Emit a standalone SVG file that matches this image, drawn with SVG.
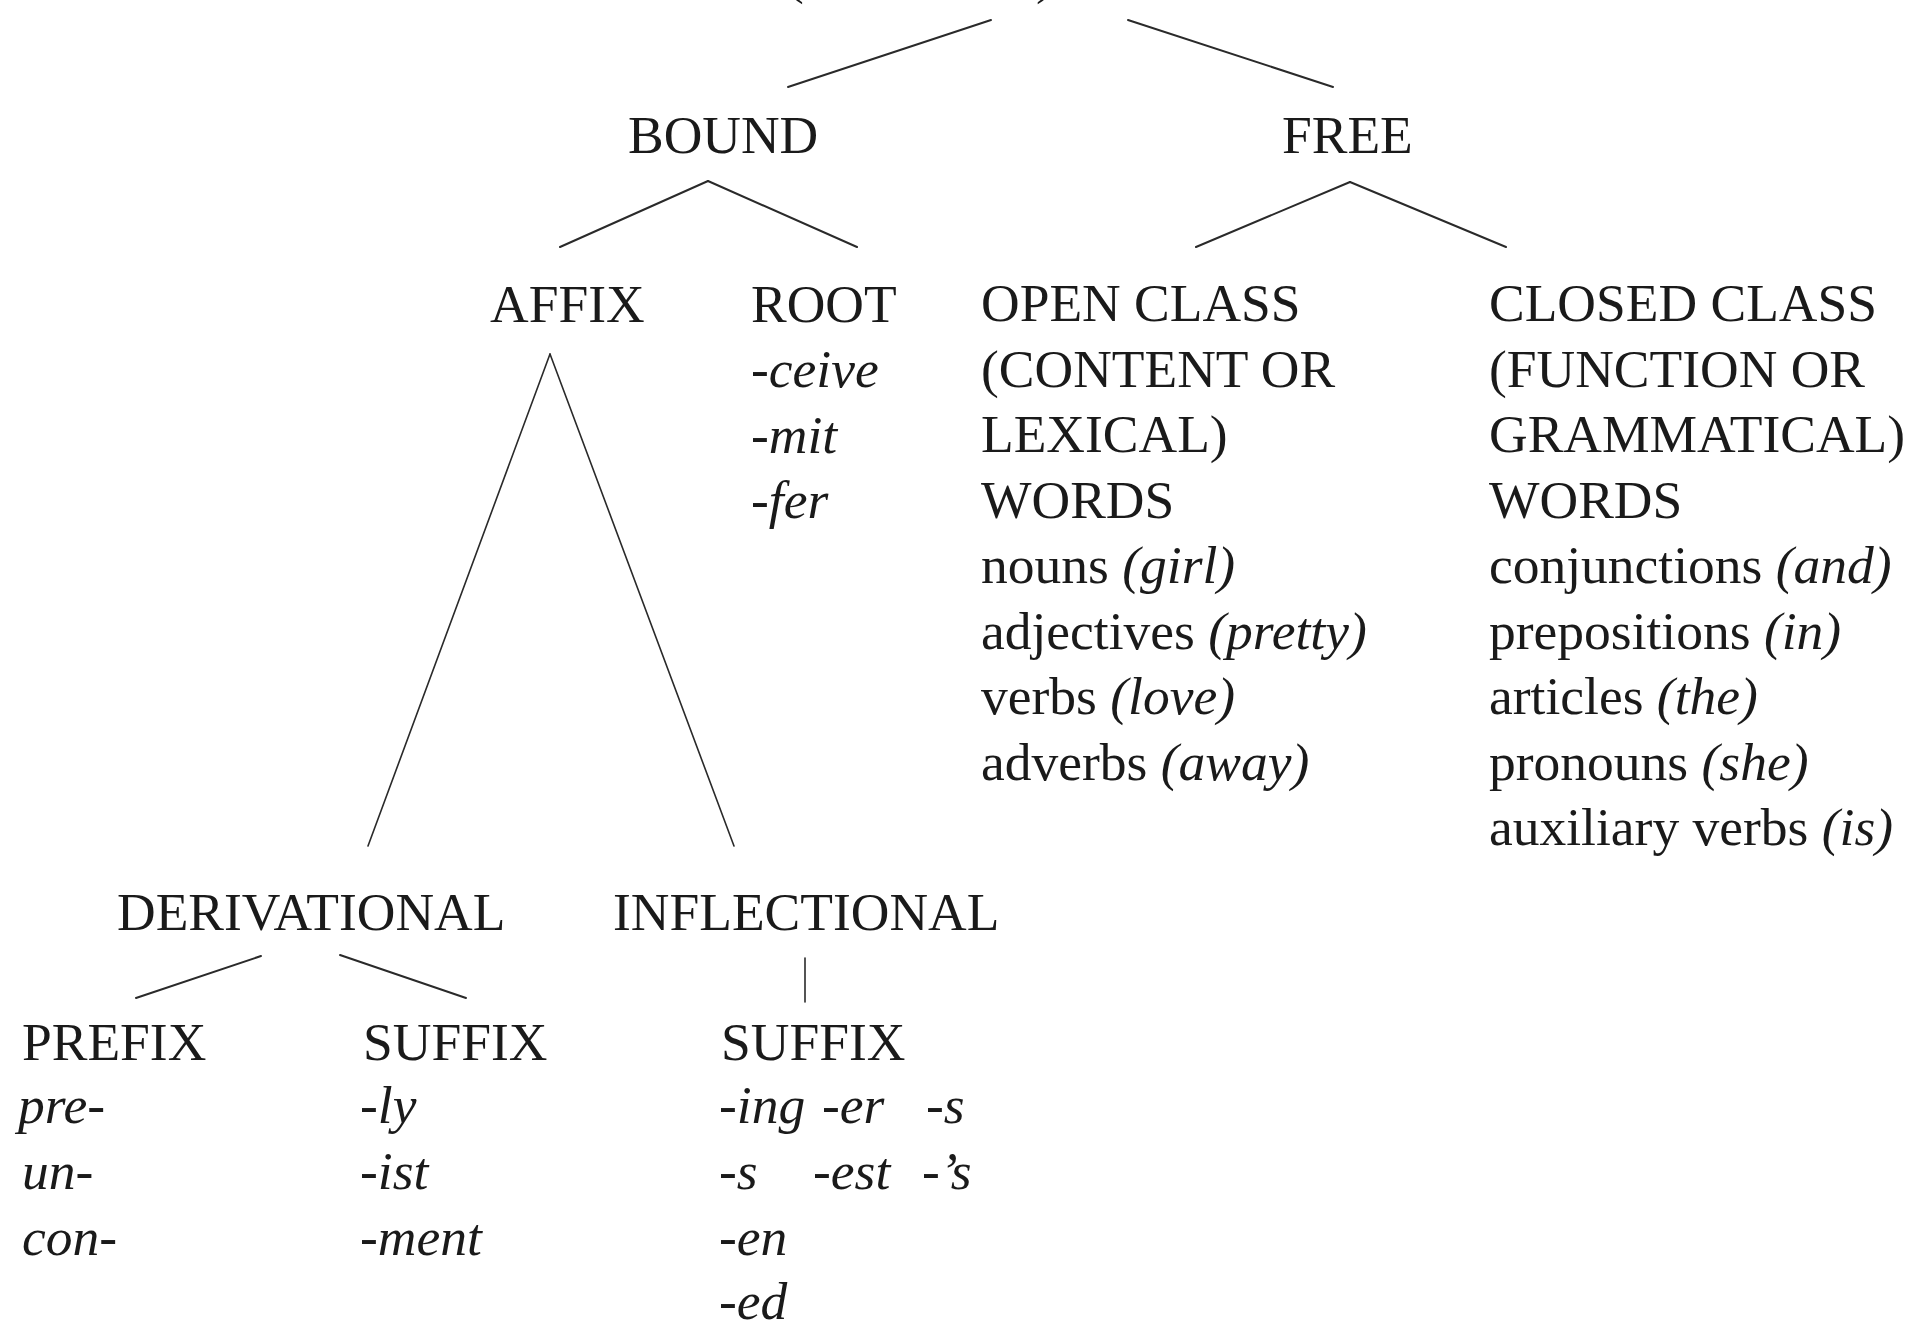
<svg xmlns="http://www.w3.org/2000/svg" width="1918" height="1324" viewBox="0 0 1918 1324">
<style>
  text { font-family: "Liberation Serif", "Times New Roman", serif; font-size: 53.5px; fill: #1a1a1a; }
  .it { font-style: italic; }
  .edge { stroke: #2a2a2a; stroke-width: 2; fill: none; stroke-linecap: round; }
  .thin { stroke-width: 1.6; }
</style>
<rect width="1918" height="1324" fill="#ffffff"/>
<g id="connectors">
  <line class="edge" x1="991" y1="20" x2="788" y2="87"/>
  <line class="edge" x1="1128" y1="20" x2="1333" y2="87"/>
  <line class="edge" x1="708" y1="181" x2="560" y2="247"/>
  <line class="edge" x1="708" y1="181" x2="857" y2="247"/>
  <line class="edge" x1="1350" y1="182" x2="1196" y2="247"/>
  <line class="edge" x1="1350" y1="182" x2="1506" y2="247"/>
  <line class="edge thin" x1="550" y1="354" x2="368" y2="846"/>
  <line class="edge thin" x1="550" y1="354" x2="734" y2="846"/>
  <line class="edge" x1="261" y1="956" x2="136" y2="998"/>
  <line class="edge" x1="340" y1="955" x2="466" y2="998"/>
  <line class="edge thin" x1="805" y1="958" x2="805" y2="1002"/>
</g>
<g id="root">
  <text x="786" y="-7">(</text>
  <text x="1036" y="-7">)</text>
</g>
<g id="bound"><text x="628" y="153">BOUND</text></g>
<g id="free"><text x="1282" y="153">FREE</text></g>
<g id="affix"><text x="490" y="322">AFFIX</text></g>
<g id="root-morph">
  <text x="751" y="322">ROOT</text>
  <text class="it" x="751" y="387">-ceive</text>
  <text class="it" x="751" y="453">-mit</text>
  <text class="it" x="751" y="518">-fer</text>
</g>
<g id="open-class">
  <text x="981" y="321">OPEN CLASS</text>
  <text x="981" y="387">(CONTENT OR</text>
  <text x="981" y="452">LEXICAL)</text>
  <text x="981" y="518">WORDS</text>
  <text x="981" y="583">nouns <tspan class="it">(girl)</tspan></text>
  <text x="981" y="649">adjectives <tspan class="it">(pretty)</tspan></text>
  <text x="981" y="714">verbs <tspan class="it">(love)</tspan></text>
  <text x="981" y="780">adverbs <tspan class="it">(away)</tspan></text>
</g>
<g id="closed-class">
  <text x="1489" y="321">CLOSED CLASS</text>
  <text x="1489" y="387">(FUNCTION OR</text>
  <text x="1489" y="452">GRAMMATICAL)</text>
  <text x="1489" y="518">WORDS</text>
  <text x="1489" y="583">conjunctions <tspan class="it">(and)</tspan></text>
  <text x="1489" y="649">prepositions <tspan class="it">(in)</tspan></text>
  <text x="1489" y="714">articles <tspan class="it">(the)</tspan></text>
  <text x="1489" y="780">pronouns <tspan class="it">(she)</tspan></text>
  <text x="1489" y="845">auxiliary verbs <tspan class="it">(is)</tspan></text>
</g>
<g id="derivational"><text x="117" y="930">DERIVATIONAL</text></g>
<g id="inflectional"><text x="613" y="930">INFLECTIONAL</text></g>
<g id="prefix">
  <text x="22" y="1060">PREFIX</text>
  <text class="it" x="18" y="1123">pre-</text>
  <text class="it" x="22" y="1189">un-</text>
  <text class="it" x="22" y="1255">con-</text>
</g>
<g id="deriv-suffix">
  <text x="363" y="1060">SUFFIX</text>
  <text class="it" x="360" y="1123">-ly</text>
  <text class="it" x="360" y="1189">-ist</text>
  <text class="it" x="360" y="1255">-ment</text>
</g>
<g id="infl-suffix">
  <text x="721" y="1060">SUFFIX</text>
  <text class="it" x="719" y="1123">-ing</text>
  <text class="it" x="822" y="1123">-er</text>
  <text class="it" x="926" y="1123">-s</text>
  <text class="it" x="719" y="1189">-s</text>
  <text class="it" x="813" y="1189">-est</text>
  <text class="it" x="922" y="1189">-’s</text>
  <text class="it" x="719" y="1255">-en</text>
  <text class="it" x="719" y="1319">-ed</text>
</g>
</svg>
